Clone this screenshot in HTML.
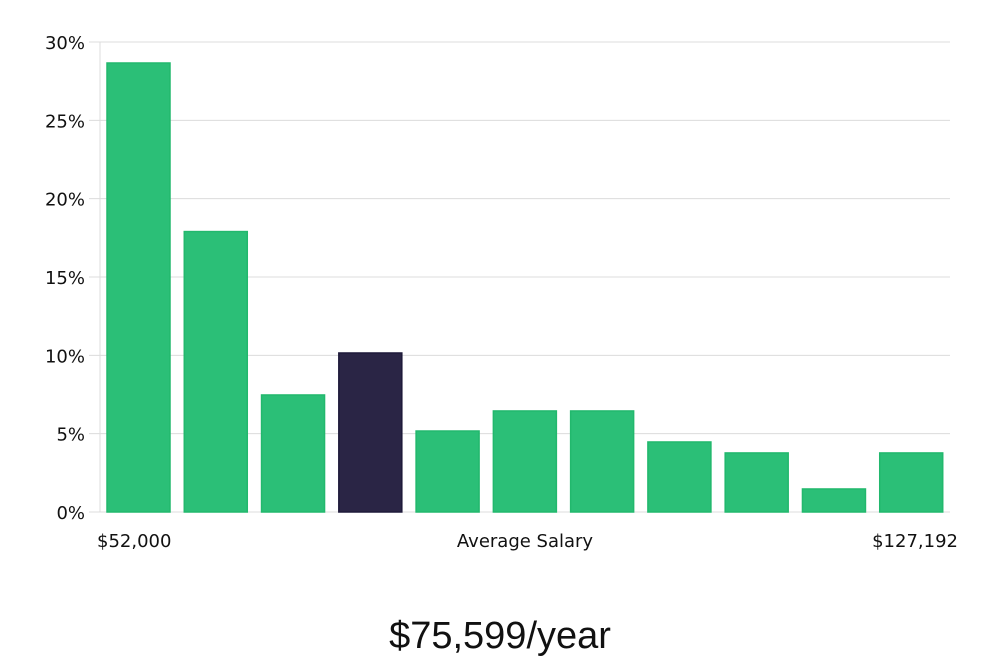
<!DOCTYPE html>
<html><head><meta charset="utf-8"><style>
body{margin:0;background:#fff;width:1000px;height:660px;overflow:hidden}
text{font-family:"DejaVu Sans","Liberation Sans",sans-serif}
</style></head><body>
<svg id="chart" width="1000" height="660" xmlns="http://www.w3.org/2000/svg">
<g id="grid"></g>
<g id="bars"></g>
<g id="yticks"></g>
<text x="97" y="547" font-size="18" fill="#111">$52,000</text>
<text x="525" y="547" font-size="18" fill="#111" text-anchor="middle">Average Salary</text>
<text x="958" y="547" font-size="18" fill="#111" text-anchor="end">$127,192</text>
<text x="500" y="648" font-size="38" fill="#111" text-anchor="middle" style="font-family:'Liberation Sans',sans-serif;font-weight:300">$75,599/year</text>
</svg>
<script>
const values=[28.66,17.9,7.47,10.15,5.17,6.45,6.45,4.47,3.77,1.47,3.77];
const highlight=[false,false,false,true,false,false,false,false,false,false,false];
const yTicks=[0,5,10,15,20,25,30];
const yTickLabels=["0%","5%","10%","15%","20%","25%","30%"];
const NS="http://www.w3.org/2000/svg";
const x0=100,x1=950,yBase=512,yTop=42,yMax=30;
const y=v=>yBase-(v/yMax)*(yBase-yTop);
const step=(x1-x0)/values.length, bw=63;
const grid=document.getElementById('grid'),yt=document.getElementById('yticks'),bars=document.getElementById('bars');
yTicks.forEach((t,i)=>{
 const l=document.createElementNS(NS,'line');
 
 
 l.setAttribute('x1',i===0?89:89);l.setAttribute('x2',x1);
 l.setAttribute('y1',y(t));l.setAttribute('y2',y(t));
 l.setAttribute('stroke','#dcdcdc');l.setAttribute('stroke-width','1');
 grid.appendChild(l);
 const tx=document.createElementNS(NS,'text');
 
 
 tx.setAttribute('x',85);tx.setAttribute('y',y(t)+7);
 tx.setAttribute('text-anchor','end');tx.setAttribute('font-size','18');tx.setAttribute('fill','#111');
 tx.textContent=yTickLabels[i];yt.appendChild(tx);
});
const ax=document.createElementNS(NS,'line');


ax.setAttribute('x1',x0);ax.setAttribute('x2',x0);ax.setAttribute('y1',yTop);ax.setAttribute('y2',yBase);
ax.setAttribute('stroke','#dcdcdc');grid.appendChild(ax);
values.forEach((v,i)=>{
 const r=document.createElementNS(NS,'rect');
 
 
 const bx=x0+7+i*step;
 r.setAttribute('x',bx);r.setAttribute('y',y(v));r.setAttribute('width',bw);r.setAttribute('height',yBase-y(v));
 r.setAttribute('fill',highlight[i]?'#2a2545':'#2bbf77');
 r.setAttribute('stroke',highlight[i]?'#1e1a3a':'#22b86d');r.setAttribute('stroke-width','1.5');
 bars.appendChild(r);
});
</script>
</body></html>
